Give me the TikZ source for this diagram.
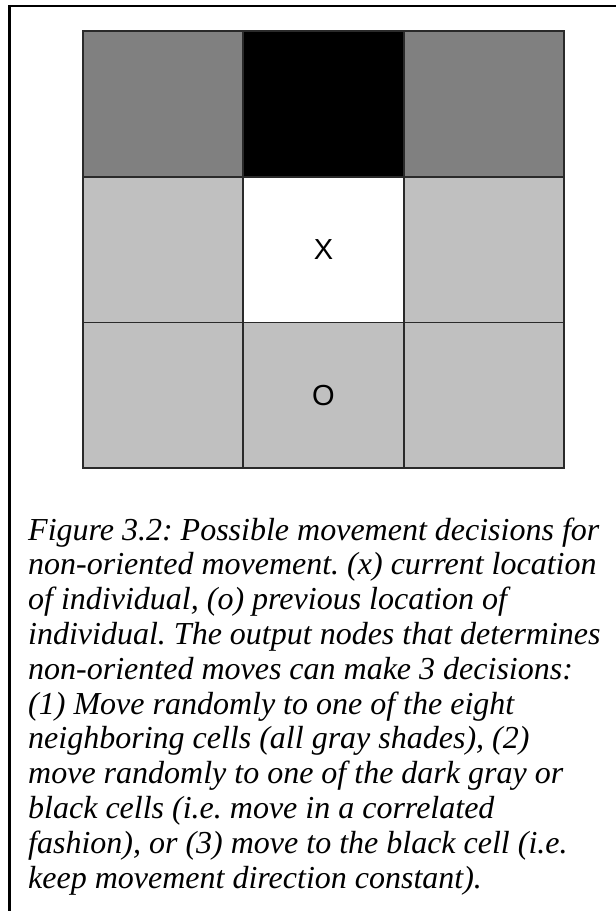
\documentclass[tikz,border=0pt]{standalone}
\usepackage{fontspec}
\newfontfamily\capfont{Liberation Serif}
\newfontfamily\lblfont{Liberation Sans}
\definecolor{darkcell}{HTML}{808080}
\definecolor{lightcell}{HTML}{C0C0C0}
\definecolor{gridline}{HTML}{2A2A2A}
\frenchspacing
\begin{document}
\begin{tikzpicture}[x=1pt,y=-1pt,
  cell/.style={draw=gridline, line width=1.8pt, minimum width=160.3pt, minimum height=145.7pt, inner sep=0pt, outer sep=0pt},
  lbl/.style={font=\lblfont\fontsize{29}{29}\selectfont, inner sep=0pt},
  captxt/.style={anchor=base west, inner sep=0pt, font=\capfont\itshape\fontsize{32}{35}\selectfont}]
\useasboundingbox (0,0) rectangle (616,911);
\fill[white] (0,0) rectangle (616,911);
% frame
\draw[line width=2.6pt] (9.2,911) -- (9.2,6) -- (616,6);
% grid cells
\node[cell, fill=darkcell]  (c11) at (163.15,103.85) {};
\node[cell, fill=black]     (c12) at (323.45,103.85) {};
\node[cell, fill=darkcell]  (c13) at (483.75,103.85) {};
\node[cell, fill=lightcell] (c21) at (163.15,249.55) {};
\node[cell, fill=white]     (c22) at (323.45,249.55) {};
\node[cell, fill=lightcell] (c23) at (483.75,249.55) {};
\node[cell, fill=lightcell] (c31) at (163.15,395.25) {};
\node[cell, fill=lightcell] (c32) at (323.45,395.25) {};
\node[cell, fill=lightcell] (c33) at (483.75,395.25) {};
\node[lbl] (xl) at (c22.center) {X};
\node[lbl] (ol) at (c32.center) {O};
% caption
\node[captxt] (l1)  at (28,540)   {Figure 3.2: Possible movement decisions for};
\node[captxt] (l2)  at (28,574.8) {non-oriented movement. (x) current location};
\node[captxt] (l3)  at (28,609.6) {of individual, (o) previous location of};
\node[captxt] (l4)  at (28,644.4) {individual. The output nodes that determines};
\node[captxt] (l5)  at (28,679.2) {non-oriented moves can make 3 decisions:};
\node[captxt] (l6)  at (28,714)   {(1) Move randomly to one of the eight};
\node[captxt] (l7)  at (28,748.8) {neighboring cells (all gray shades), (2)};
\node[captxt] (l8)  at (28,783.6) {move randomly to one of the dark gray or};
\node[captxt] (l9)  at (28,818.4) {black cells (i.e. move in a correlated};
\node[captxt] (l10) at (28,853.2) {fashion), or (3) move to the black cell (i.e.};
\node[captxt] (l11) at (28,888)   {keep movement direction constant).};
\end{tikzpicture}
\end{document}
